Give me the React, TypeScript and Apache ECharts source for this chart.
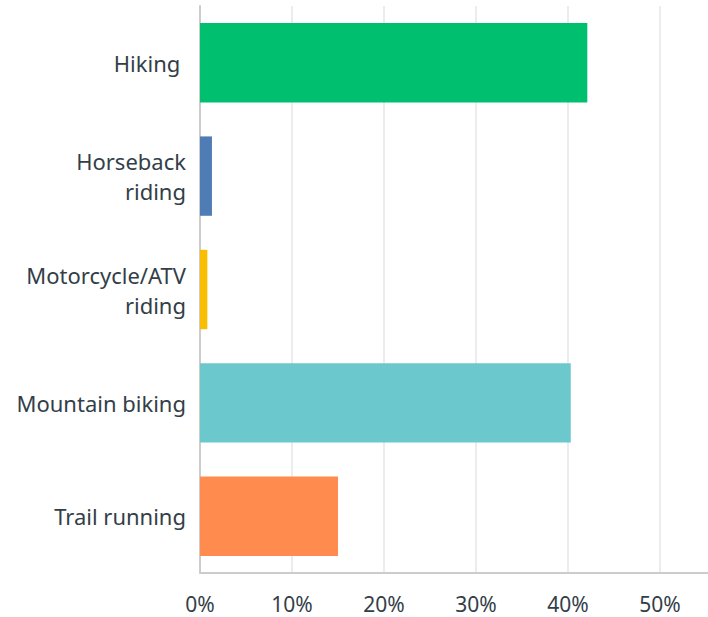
import React, { useEffect, useRef } from "react";
import * as echarts from "echarts";

const categories = ["Hiking ", "Horseback\nriding", "Motorcycle/ATV\nriding", "Mountain biking", "Trail running"];
const values = [42.1, 1.3, 0.8, 40.3, 15.0];
const colors = ["#00BF6F", "#507CB6", "#F9BE00", "#6BC8CD", "#FF8B4F"];
const tickStep = 10;

export default function App() {
  const ref = useRef<HTMLDivElement>(null);
  useEffect(() => {
    document.body.style.margin = "0";
    const chart = echarts.init(ref.current!, null, { renderer: "svg" });
    chart.setOption({
      animation: false,
      grid: { left: 200, width: 552, top: 6, bottom: 44, containLabel: false, outerBoundsMode: "none" },
      xAxis: {
        type: "value",
        min: 0,
        max: 60,
        interval: tickStep,
        axisLine: { show: true, lineStyle: { color: "#cccccc", width: 2 } },
        axisTick: { show: false },
        splitLine: { show: true, lineStyle: { color: "#ececec", width: 2 } },
        axisLabel: {
          formatter: (v: number) => `${v}%`,
          showMaxLabel: false,
          color: "#333e48",
          fontFamily: "Noto Sans",
          fontSize: 21,
          margin: 20,
        },
      },
      yAxis: {
        type: "category",
        inverse: true,
        data: categories,
        axisLine: { show: true, lineStyle: { color: "#cccccc", width: 2 } },
        axisTick: { show: false },
        axisLabel: {
          color: "#333e48",
          fontFamily: "Noto Sans",
          fontSize: 22,
          lineHeight: 30,
          margin: 14,
          align: "right",
        },
      },
      series: [
        {
          type: "bar",
          data: values.map((v, i) => ({ value: v, itemStyle: { color: colors[i] } })),
          barCategoryGap: "30%",
        },
      ],
    });
    return () => chart.dispose();
  }, []);
  return <div ref={ref} style={{ width: 708, height: 617 }} />;
}
